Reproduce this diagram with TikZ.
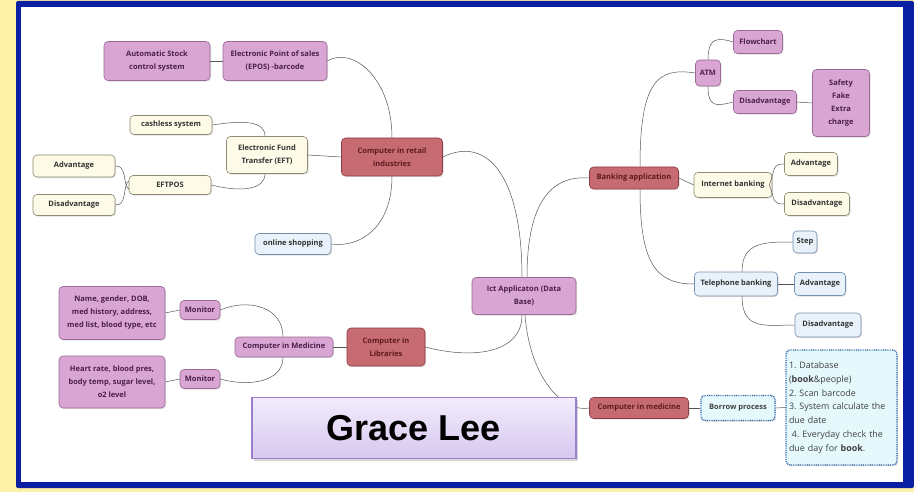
\documentclass[tikz,border=0pt]{standalone}
\usepackage{fontspec}
\setmainfont{Open Sans}
\newfontfamily\gracefont{Liberation Sans}
\usetikzlibrary{shadows}
\frenchspacing
\definecolor{bgyellow}{HTML}{FCF1A6}
\definecolor{frameblue}{HTML}{0B1FA3}
\definecolor{pinkfill}{HTML}{D9A5D3}
\definecolor{pinkdraw}{HTML}{9A6A98}
\definecolor{pinktext}{HTML}{4A2048}
\definecolor{redfill}{HTML}{C66B72}
\definecolor{reddraw}{HTML}{8A3D44}
\definecolor{redtext}{HTML}{5E1A20}
\definecolor{creamfill}{HTML}{FDFBE7}
\definecolor{creamdraw}{HTML}{8C8B72}
\definecolor{bluefill}{HTML}{E9F2FA}
\definecolor{bluedraw}{HTML}{7390AE}
\definecolor{cyanfill}{HTML}{E5F9FC}
\definecolor{dotblue}{HTML}{2A62A6}
\definecolor{linegray}{HTML}{555555}
\definecolor{gracetop}{HTML}{F2ECFC}
\definecolor{gracebot}{HTML}{D6C8F0}
\definecolor{gracedraw}{HTML}{9A80CA}
\tikzset{
  box/.style={rounded corners=4pt, align=center, inner sep=1pt, line width=0.6pt,
    font=\fontsize{7.5}{13}\selectfont\bfseries,
    drop shadow={shadow xshift=1pt, shadow yshift=-1.2pt, opacity=0.25}},
  pinkbox/.style={box, fill=pinkfill, draw=pinkdraw, text=pinktext},
  redbox/.style={box, fill=redfill, draw=reddraw, text=redtext},
  creambox/.style={box, fill=creamfill, draw=creamdraw, text=black!80},
  bluebox/.style={box, fill=bluefill, draw=bluedraw, text=black!80},
  dotbox/.style={box, fill=cyanfill, draw=dotblue, dash pattern=on 0.9pt off 0.9pt, line width=1.3pt, text=black!75},
  sz/.style 2 args={minimum width=#1pt, minimum height=#2pt},
  link/.style={draw=linegray, line width=0.5pt},
}
\begin{document}
\begin{tikzpicture}[x=1pt,y=-1pt]
\fill[bgyellow] (0,0) rectangle (914,492);
\useasboundingbox (0,0) rectangle (914,492);
\fill[frameblue, rounded corners=2pt] (16,1) rectangle (914,488);
\fill[white] (21,7) rectangle (903,482);

% left / retail branch
\node[pinkbox, sz={106}{39}] (auto) at (157,61) {Automatic Stock\\control system};
\node[pinkbox, sz={104}{39}] (epos) at (275,61) {Electronic Point of sales\\(EPOS) -barcode};
\node[creambox, sz={82}{19}] (cashless) at (171,125) {cashless system};
\node[creambox, sz={81}{37}] (eft) at (267,155) {Electronic Fund\\Transfer (EFT)};
\node[creambox, sz={82}{19}] (eftpos) at (170,185) {EFTPOS};
\node[creambox, sz={82}{22}] (adv1) at (74,166) {Advantage};
\node[creambox, sz={82}{21}] (dis1) at (74,205) {Disadvantage};
\node[redbox, sz={101}{38}] (retail) at (392,157) {Computer in retail\\industries};
\node[bluebox, sz={76}{21}] (online) at (293,244) {online shopping};

% libraries branch
\node[pinkbox, sz={106}{53}] (name) at (112,313) {Name, gender, DOB,\\med history, address,\\med list, blood type, etc};
\node[pinkbox, sz={40}{19}] (mon1) at (200,310) {Monitor};
\node[pinkbox, sz={40}{19}] (mon2) at (200,379) {Monitor};
\node[pinkbox, sz={106}{52}] (heart) at (112,382) {Heart rate, blood pres,\\body temp, sugar level,\\o2 level};
\node[pinkbox, sz={98}{20}] (cim) at (284,347) {Computer in Medicine};
\node[redbox, sz={78}{38}] (lib) at (386,347) {Computer in\\Libraries};

% centre
\node[pinkbox, sz={104}{37}] (ict) at (524,296) {Ict Applicaton (Data\\Base)};

% banking branch
\node[redbox, sz={89}{22}] (bank) at (634,178) {Banking application};
\node[pinkbox, sz={25}{26}] (atm) at (708,73) {ATM};
\node[pinkbox, sz={49}{23}] (flow) at (758,42) {Flowchart};
\node[pinkbox, sz={63}{23}] (dis2) at (765,102) {Disadvantage};
\node[pinkbox, sz={57}{67}] (safety) at (841,103) {Safety\\Fake\\Extra\\charge};
\node[creambox, sz={78}{25}] (inet) at (733,185) {Internet banking};
\node[creambox, sz={53}{23}] (adv3) at (811,164) {Advantage};
\node[creambox, sz={65}{23}] (dis3) at (817,204) {Disadvantage};
\node[bluebox, sz={24}{22}] (step) at (805,242) {Step};
\node[bluebox, sz={83}{24}] (tel) at (736,284) {Telephone banking};
\node[bluebox, sz={51}{23}] (adv4) at (820,284) {Advantage};
\node[bluebox, sz={66}{24}] (dis4) at (828,325) {Disadvantage};

% library process branch
\node[redbox, sz={99}{21}] (cmed) at (639,408) {Computer in medicine};
\node[dotbox, sz={111}{115}, align=left, inner sep=2pt, text width=105pt,
  font=\fontsize{8.9}{13.8}\selectfont] (list) at (841.5,407.5)
  {1. Database\\(\textbf{book}\&people)\\2. Scan barcode\\3. System calculate the\\due date\\\ 4. Everyday check the\\due day for \textbf{book}.};
\node[dotbox, sz={74}{25}] (borrow) at (738,408) {Borrow process};

% connectors
\draw[link] (auto.east) -- (epos.west);
\draw[link] (epos.east) .. controls +(25,-15) and +(0,-60) .. (retail.north);
\draw[link] (online.east) .. controls +(30,4) and +(0,50) .. (retail.south);
\draw[link] (eft.east) -- (retail.west);
\draw[link] (cashless.east) .. controls +(32,-5) and +(0,-15) .. ([xshift=-2pt]eft.north);
\draw[link] (eftpos.east) .. controls +(32,8) and +(0,15) .. ([xshift=-2pt]eft.south);
\draw[link] (adv1.east) .. controls +(12,-1) and +(-6,-4) .. ([yshift=-4pt]eftpos.west);
\draw[link] (dis1.east) .. controls +(12,1) and +(-6,4) .. ([yshift=4pt]eftpos.west);
\draw[link] (name.east) -- (mon1.west);
\draw[link] (heart.east) -- (mon2.west);
\draw[link] (mon1.east) .. controls +(28,-12) and +(0,-30) .. ([xshift=-1pt]cim.north);
\draw[link] (mon2.east) .. controls +(28,8) and +(0,25) .. ([xshift=-1pt]cim.south);
\draw[link] (cim.east) -- (lib.west);
\draw[link] (lib.east) .. controls +(45,12) and +(0,40) .. ([xshift=-2pt]ict.south);
\draw[link] (retail.east) .. controls +(45,-22) and +(0,-100) .. ([xshift=-2pt]ict.north);
\draw[link] ([xshift=3pt]ict.north) .. controls +(0,-75) and +(-38,-3) .. (bank.west);
\draw[link] ([xshift=1pt]ict.south) .. controls +(5,65) and +(-25,5) .. (cmed.west);
\draw[link] ([xshift=6pt]bank.north) .. controls +(0,-85) and +(-38,-6) .. (atm.west);
\draw[link] ([xshift=6pt]bank.south) .. controls +(0,75) and +(-38,0) .. (tel.west);
\draw[link] (bank.east) -- (inet.west);
\draw[link] (atm.north) .. controls +(0,-22) and +(-16,-5) .. (flow.west);
\draw[link] (atm.south) .. controls +(0,22) and +(-16,4) .. (dis2.west);
\draw[link] (dis2.east) -- (safety.west);
\draw[link] ([xshift=-3pt]inet.east) .. controls +(6,-16) and +(-12,0) .. (adv3.west);
\draw[link] ([xshift=-3pt]inet.east) .. controls +(6,16) and +(-12,0) .. (dis3.west);
\draw[link] ([xshift=6pt]tel.north) .. controls +(0,-30) and +(-28,0) .. (step.west);
\draw[link] (tel.east) -- (adv4.west);
\draw[link] ([xshift=6pt]tel.south) .. controls +(0,35) and +(-28,0) .. (dis4.west);
\draw[link] (cmed.east) -- (borrow.west);
\draw[link] (borrow.east) -- (list.west);

% name banner
\node[draw=gracedraw, line width=1.6pt, top color=gracetop, bottom color=gracebot,
  minimum width=324pt, minimum height=61pt,
  drop shadow={shadow xshift=2pt, shadow yshift=-2pt, opacity=0.3},
  font=\gracefont\bfseries\fontsize{36}{40}\selectfont] (grace) at (414,428) {Grace Lee};
\end{tikzpicture}
\end{document}
